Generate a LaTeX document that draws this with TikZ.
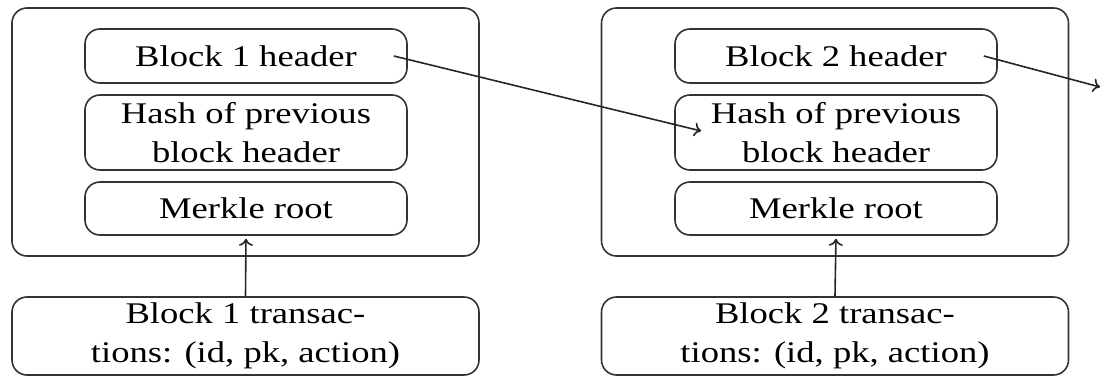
\documentclass[tikz,border=0pt]{standalone}
\usepackage{fontspec}
\setmainfont{Liberation Serif}[FakeStretch=1.22]
\usetikzlibrary{arrows.meta}
\begin{document}
\begin{tikzpicture}[x=1pt,y=-1pt,
  box/.style={draw=black!80, line width=1.6pt, rounded corners=15pt, inner sep=0pt,
    align=center, font=\fontsize{30}{39}\selectfont},
  outer/.style={box, minimum width=467pt, minimum height=248pt},
  inner/.style={box, minimum width=322pt},
  trans/.style={box, minimum width=467pt, minimum height=78pt},
  link/.style={draw=black!85, line width=1.6pt, -{To[length=7pt,width=14pt]}}]
\useasboundingbox (0,0) rectangle (1101,378);
% block 1
\node[outer] (blk1) at (245.5,132) {};
\node[inner, minimum height=54pt] (head1) at (246,56) {Block 1 header};
\node[inner, minimum height=75pt] (hash1) at (246,132.5) {Hash of previous\\block header};
\node[inner, minimum height=53pt] (root1) at (246,208.5) {Merkle root};
\node[trans] (tx1) at (245.5,336) {Block 1 transac-\\tions: (id, pk, action)};
% block 2
\node[outer] (blk2) at (835,132) {};
\node[inner, minimum height=54pt] (head2) at (836,56) {Block 2 header};
\node[inner, minimum height=75pt] (hash2) at (836,132.5) {Hash of previous\\block header};
\node[inner, minimum height=53pt] (root2) at (836,208.5) {Merkle root};
\node[trans] (tx2) at (835,336) {Block 2 transac-\\tions: (id, pk, action)};
\coordinate (next) at (1100,87);
% links
\draw[link] ([xshift=-14pt]head1.east) -- ([xshift=27pt,yshift=1.5pt]hash2.west);
\draw[link] ([xshift=-14pt]head2.east) -- (next);
\draw[link, shorten >=3pt] (tx1.north) -- (root1.south);
\draw[link, shorten >=3pt] (tx2.north) -- (root2.south);
\end{tikzpicture}
\end{document}
